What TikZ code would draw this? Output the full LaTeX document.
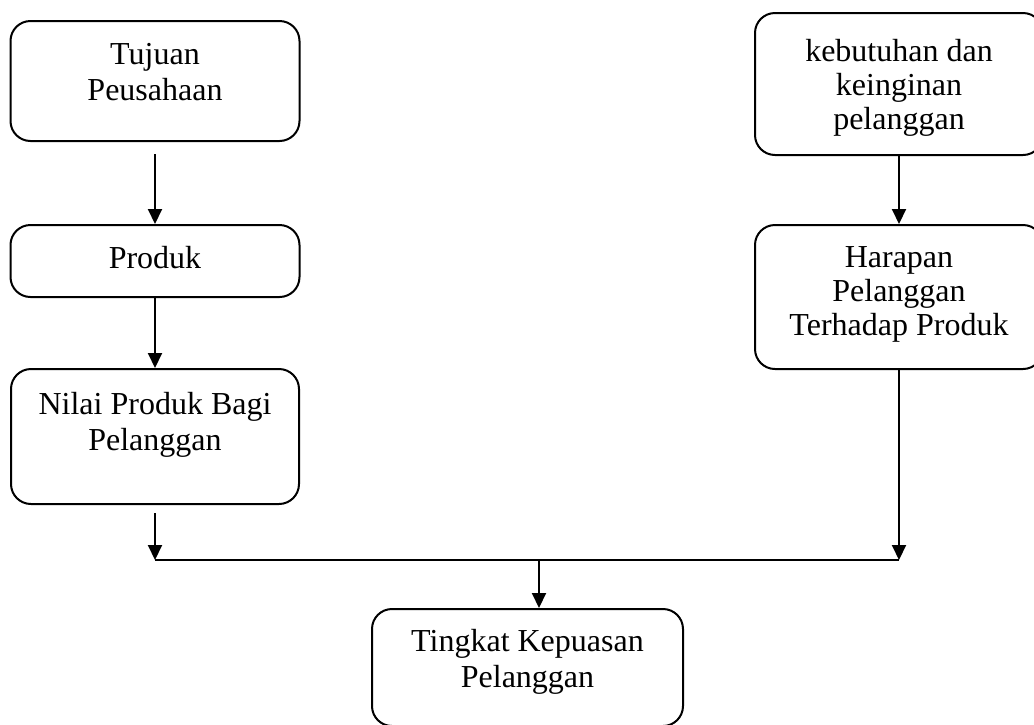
\documentclass[tikz,border=0pt]{standalone}
\usepackage{fontspec}
\setmainfont{Liberation Serif}
\usetikzlibrary{arrows.meta}

\begin{document}
\begin{tikzpicture}[x=1pt, y=-1pt, line width=2pt,
        box/.style={draw, rounded corners=20pt, inner sep=0pt},
        txt/.style={anchor=north, inner sep=0pt, align=center, font=\fontsize{32}{36.5}\selectfont},
        txtr/.style={txt, font=\fontsize{32}{34}\selectfont},
        arr/.style={-{Triangle[length=15pt, width=14pt]}}]
        \clip (0,0) rectangle (1034,724);

        % Left column
        \node[box, minimum width=289, minimum height=120] (tujuan) at (155, 81) {};
        \node[txt] (tujuan-t) at ([yshift=-22pt]tujuan.north) {Tujuan\\Peusahaan};
        \node[box, minimum width=289, minimum height=72] (produk) at (155, 261) {};
        \node[txt] (produk-t) at ([yshift=-21pt]produk.north) {Produk};
        \node[box, minimum width=288, minimum height=135] (nilai) at (155, 436.5) {};
        \node[txt] (nilai-t) at ([yshift=-23pt]nilai.north) {Nilai Produk Bagi\\Pelanggan};

        % Right column
        \node[box, minimum width=288, minimum height=142] (kebutuhan) at (899, 84) {};
        \node[txtr] (kebutuhan-t) at ([yshift=-26pt]kebutuhan.north) {kebutuhan dan\\keinginan\\pelanggan};
        \node[box, minimum width=288, minimum height=144] (harapan) at (899, 297) {};
        \node[txtr] (harapan-t) at ([yshift=-22pt]harapan.north) {Harapan\\Pelanggan\\Terhadap Produk};

        % Result
        \node[box, minimum width=311, minimum height=117] (tingkat) at (527.5, 667.5) {};
        \node[txt] (tingkat-t) at ([yshift=-20pt]tingkat.north) {Tingkat Kepuasan\\Pelanggan};

        % Connectors
        \coordinate (jl) at (155, 560);
        \coordinate (jm) at (539, 560);
        \coordinate (jr) at (899, 560);
        \draw[arr, shorten <=12pt] (tujuan.south) -- (produk.north);
        \draw[arr] (produk.south) -- (nilai.north);
        \draw[arr, shorten <=8pt] (nilai.south) -- (jl);
        \draw[arr] (kebutuhan.south) -- (harapan.north);
        \draw[arr] (harapan.south) -- (jr);
        \draw (jl) -- (jr);
        \draw[arr] (jm) -- (jm |- tingkat.north);
    \end{tikzpicture}
\end{document}
